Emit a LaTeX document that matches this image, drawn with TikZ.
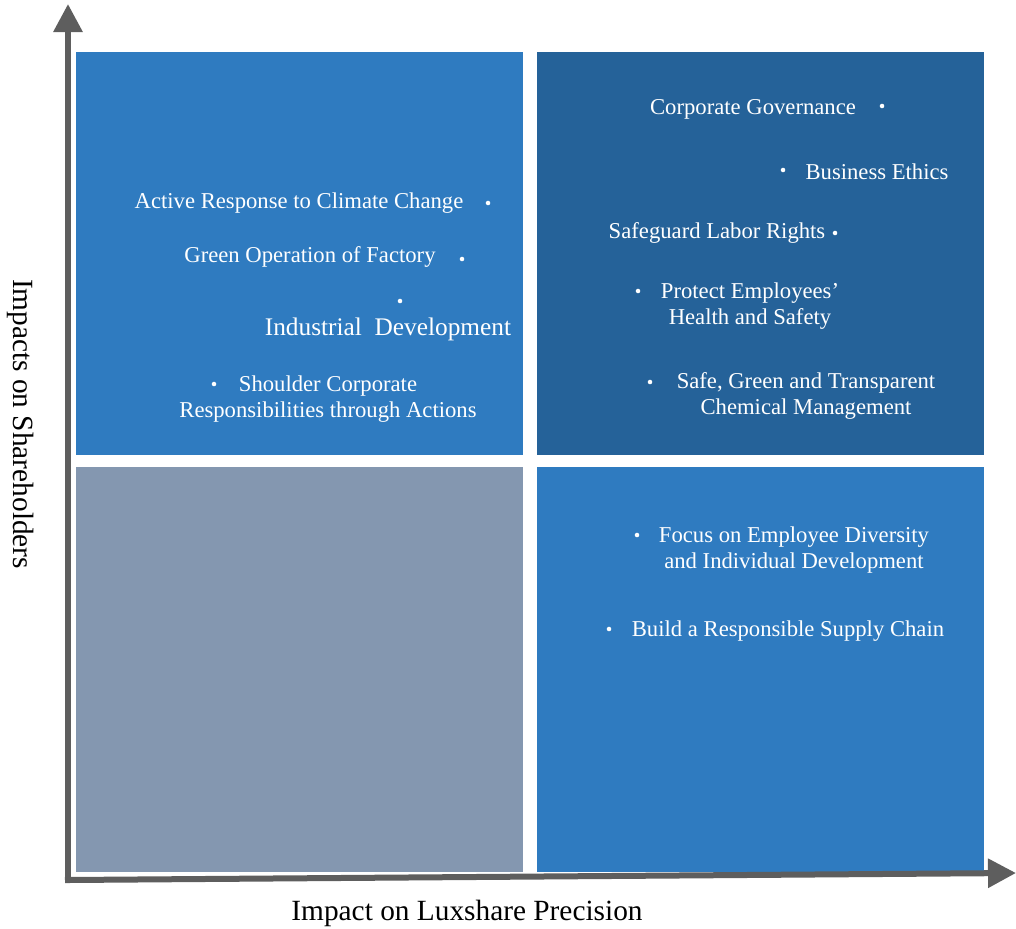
\documentclass[tikz,border=0pt]{standalone}
\usepackage{fontspec}
\setmainfont{Liberation Serif}
\usetikzlibrary{arrows.meta}
\definecolor{midblue}{HTML}{2F7BC0}
\definecolor{darkblue}{HTML}{256299}
\definecolor{greyblue}{HTML}{8497B0}
\definecolor{axisgrey}{HTML}{5E5E5E}
\tikzset{
  item/.style={text=white,font=\fontsize{17}{19}\selectfont,align=center,inner sep=0pt},
  dot/.style={circle,fill=white,inner sep=0pt,minimum size=3.4pt},
  axis/.style={axisgrey,line width=4.5pt,line cap=rect,-{Triangle[width=21pt,length=21pt]}},
  axislabel/.style={font=\fontsize{22}{26}\selectfont,inner sep=0pt}
}
\begin{document}
\begin{tikzpicture}[x=0.75pt,y=-0.75pt]
\useasboundingbox (0,0) rectangle (1016,928);
\fill[midblue] (76,52) rectangle (523,455);
\fill[darkblue] (537,52) rectangle (984,455);
\fill[greyblue] (76,467) rectangle (523,872);
\fill[midblue] (537,467) rectangle (984,872);
\coordinate (o) at (68,880);
\coordinate (ytip) at (68,4);
\coordinate (xtip) at (1016,873);
\draw[axis] (o) -- (ytip);
\draw[axis] (o) -- (xtip);
\node[axislabel,rotate=-90] (ylabel) at (21,424) {Impacts on Shareholders};
\node[axislabel] (xlabel) at (467,913) {Impact on Luxshare Precision};
\node[item] (climate) at (299,203) {Active Response to Climate Change};
\node[dot] (climatedot) at (488,203) {};
\node[item] (factory) at (310,257) {Green Operation of Factory};
\node[dot] (factorydot) at (462,259) {};
\node[dot] (industrydot) at (400,301) {};
\node[item,font=\fontsize{19}{21}\selectfont] (industry) at (388,329) {Industrial\ \ Development};
\node[dot] (shoulderdot) at (214,384) {};
\node[item] (shoulder) at (328,399) {Shoulder Corporate\\Responsibilities through Actions};
\node[item] (governance) at (753,109) {Corporate Governance};
\node[dot] (governancedot) at (882,106) {};
\node[dot] (ethicsdot) at (783,170) {};
\node[item] (ethics) at (877,172) {Business Ethics};
\node[item] (labor) at (717,233) {Safeguard Labor Rights};
\node[dot] (labordot) at (835,233) {};
\node[dot] (healthdot) at (638,291) {};
\node[item] (health) at (750,306) {Protect Employees’\\Health and Safety};
\node[dot] (chemdot) at (650,382) {};
\node[item] (chem) at (806,396) {Safe, Green and Transparent\\Chemical Management};
\node[dot] (diversitydot) at (637,535) {};
\node[item] (diversity) at (794,550) {Focus on Employee Diversity\\and Individual Development};
\node[dot] (supplydot) at (609,629) {};
\node[item] (supply) at (788,631) {Build a Responsible Supply Chain};
\end{tikzpicture}
\end{document}
